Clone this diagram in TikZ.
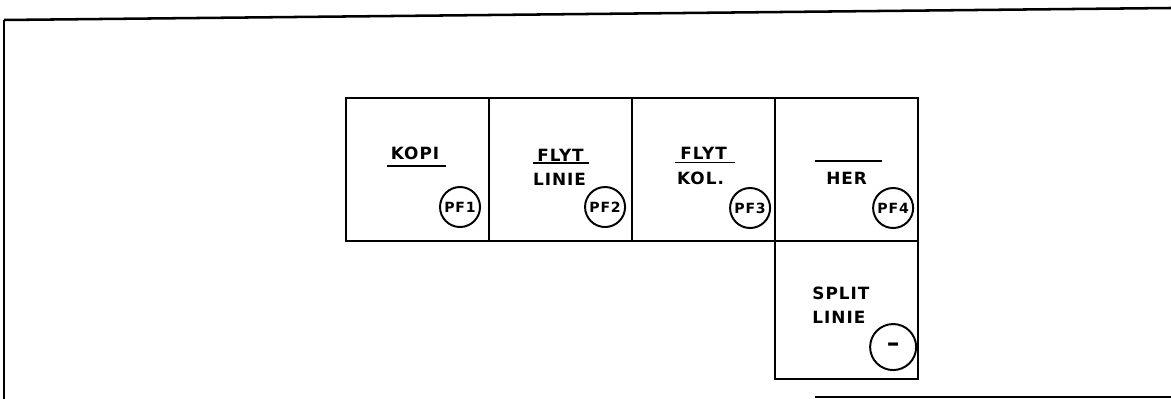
\documentclass[tikz,border=0pt]{standalone}
\usepackage{fontspec}
\newfontfamily\keyfont[LetterSpace=6]{DejaVu Sans}
\usetikzlibrary{calc,positioning}

\tikzset{
  pfkey/.style={draw, line width=1.5pt, minimum width=3.575cm, minimum height=3.575cm,
                inner sep=0pt, outer sep=0pt},
  keytext/.style={font={\keyfont\bfseries\fontsize{12}{14}\selectfont}, inner sep=0pt},
  keyno/.style={draw, circle, line width=1.4pt, minimum size=1cm, inner sep=0pt,
                font={\keyfont\bfseries\fontsize{10}{12}\selectfont}},
  bar/.style={line width=1.4pt}
}

\begin{document}
\begin{tikzpicture}[x=0.025cm, y=-0.025cm]
\useasboundingbox (0,0) rectangle (1171,399);

% frame
\draw[line width=1pt] (4,399) -- (4,20);
\draw[line width=1.8pt] (4,20) -- (1171,8);
\draw[line width=1.4pt] (815,397) -- (1171,397);

% keys
\node[pfkey] (kopi) at (417.5,169.5) {};
\node[pfkey, right=0pt of kopi] (flytlinie) {};
\node[pfkey, right=0pt of flytlinie] (flytkol) {};
\node[pfkey, right=0pt of flytkol] (her) {};
\node[pfkey, below=0pt of her, minimum height=3.45cm] (split) {};

% key texts
\node[keytext] (kopi-a) at ($(kopi.center)+(-2.5,-16.5)$) {KOPI};
\draw[bar] ($(kopi.center)+(-30.5,-3.5)$) -- ($(kopi.center)+(28.5,-3.5)$);

\node[keytext] (flytlinie-a) at ($(flytlinie.center)+(0,-14)$) {FLYT};
\draw[bar] ($(flytlinie.center)+(-28,-6.5)$) -- ($(flytlinie.center)+(28,-6.5)$);
\node[keytext] (flytlinie-b) at ($(flytlinie.center)+(-1,9.5)$) {LINIE};

\node[keytext] (flytkol-a) at ($(flytkol.center)+(0,-16)$) {FLYT};
\draw[bar] ($(flytkol.center)+(-29,-7)$) -- ($(flytkol.center)+(31,-7)$);
\node[keytext] (flytkol-b) at ($(flytkol.center)+(-3,8.5)$) {KOL.};

\draw[bar] ($(her.center)+(-31.5,-8.5)$) -- ($(her.center)+(35.5,-8.5)$);
\node[keytext] (her-b) at ($(her.center)+(0,8.5)$) {HER};

\node[keytext, anchor=west] (split-a) at ($(split.center)+(-34.5,-17)$) {SPLIT};
\node[keytext, anchor=west] (split-b) at ($(split.center)+(-34.5,7)$) {LINIE};

% key numbers
\node[keyno] (pf1) at ($(kopi.south east)+(-29,-34)$) {PF1};
\node[keyno] (pf2) at ($(flytlinie.south east)+(-27,-34)$) {PF2};
\node[keyno] (pf3) at ($(flytkol.south east)+(-25,-33)$) {PF3};
\node[keyno] (pf4) at ($(her.south east)+(-25,-33)$) {PF4};
\node[keyno, minimum size=1.15cm, font={\keyfont\bfseries\fontsize{18}{18}\selectfont}]
  (minus) at ($(split.south east)+(-25,-32)$) {–};
\end{tikzpicture}
\end{document}
